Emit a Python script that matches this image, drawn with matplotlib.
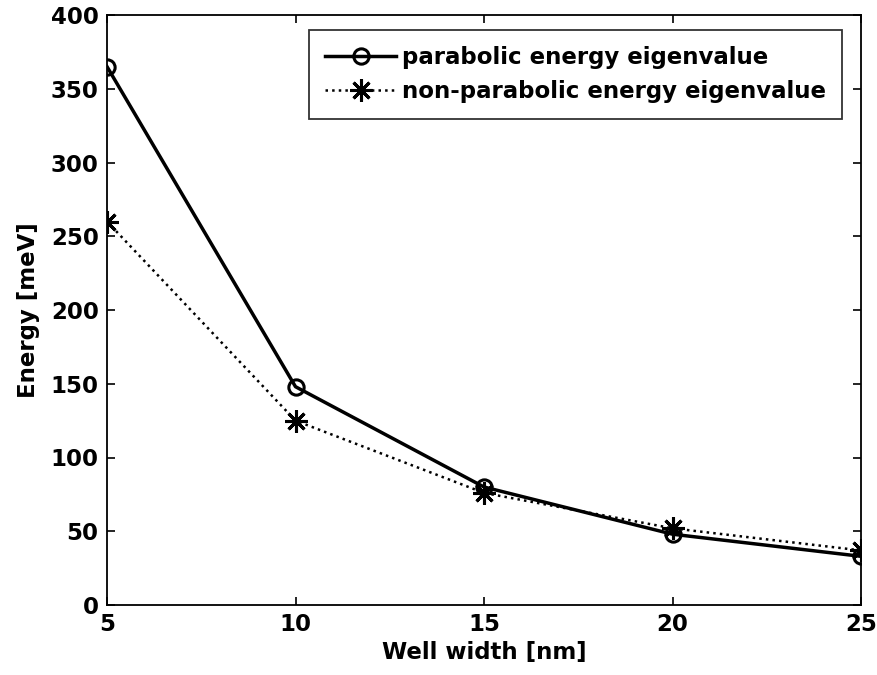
import matplotlib
matplotlib.use('Agg')
import matplotlib.pyplot as plt

plt.rcParams['font.family'] = ['DejaVu Sans']
plt.rcParams['font.weight'] = 'bold'

well_width = [5, 10, 15, 20, 25]
parabolic = [365, 148, 80, 48, 33]
non_parabolic = [260, 125, 76, 52, 37]

fig = plt.figure(figsize=(8.78, 6.75), dpi=100)
# axes box: x 107..861 px, y 15..605 px
ax = fig.add_axes([107 / 878, 70 / 675, 754 / 878, 590 / 675])

ax.plot(well_width, parabolic, color='black', linestyle='-', linewidth=2.5,
        marker='o', markersize=11, markerfacecolor='none', markeredgewidth=2.2,
        label='parabolic energy eigenvalue')
ax.plot(well_width, non_parabolic, color='black', linestyle=':', linewidth=1.8,
        marker=(8, 2, 0), markersize=16, markeredgewidth=2.2,
        label='non-parabolic energy eigenvalue')

ax.set_xlim(5, 25)
ax.set_ylim(0, 400)
ax.set_xticks(well_width)
ax.set_yticks(range(0, 401, 50))
ax.tick_params(direction='in', top=True, right=True, labelsize=16.5, length=6, width=1.2, pad=6)
for s in ax.spines.values():
    s.set_linewidth(1.3)

ax.set_xlabel('Well width [nm]', fontsize=16.5, fontweight='bold', labelpad=3)
ax.set_ylabel('Energy [meV]', fontsize=16.5, fontweight='bold', labelpad=8)

leg = ax.legend(loc='upper right', fontsize=16.5, frameon=True, fancybox=False,
                edgecolor='black', handlelength=3.1, handletextpad=0.25,
                borderpad=0.7, labelspacing=0.5, borderaxespad=0,
                bbox_to_anchor=(0.975, 0.975))
leg.get_frame().set_linewidth(1.3)

fig.savefig('out.png', dpi=100)
